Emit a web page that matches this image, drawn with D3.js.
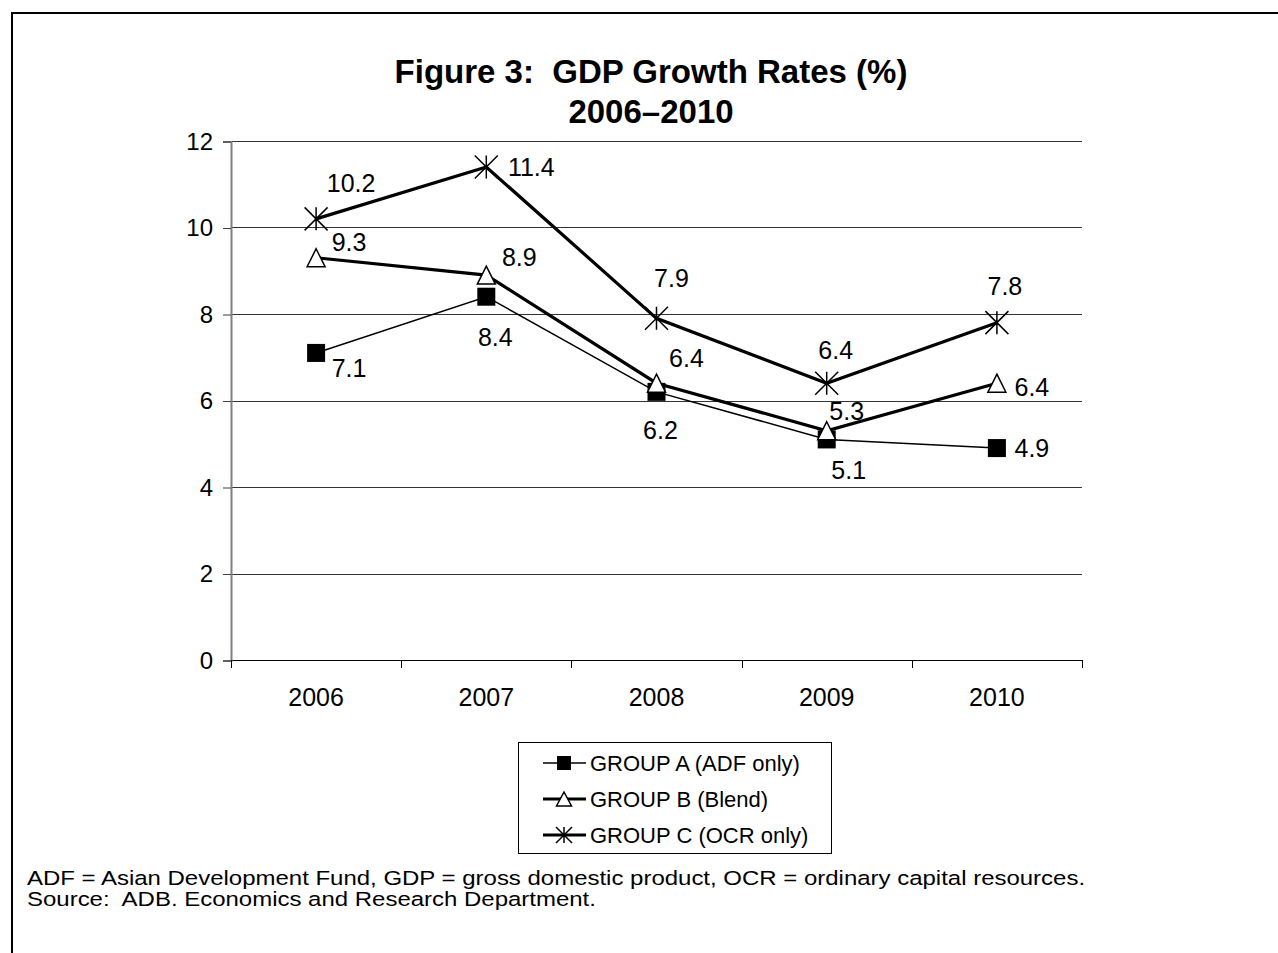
<!DOCTYPE html>
<html>
<head>
<meta charset="utf-8">
<script src="https://cdn.jsdelivr.net/npm/d3@7"></script>
<style>
  html, body { margin: 0; padding: 0; background: #fff; }
  svg { display: block; font-family: "Liberation Sans", Arial, sans-serif; }
  text { white-space: pre; }
</style>
</head>
<body>
<svg id="chart" width="1278" height="953"></svg>
<script>
// ---- data ----
const years = ["2006", "2007", "2008", "2009", "2010"];
const groupA = [7.1, 8.4, 6.2, 5.1, 4.9];
const groupB = [9.3, 8.9, 6.4, 5.3, 6.4];
const groupC = [10.2, 11.4, 7.9, 6.4, 7.8];
const seriesNames = ["GROUP A (ADF only)", "GROUP B (Blend)", "GROUP C (OCR only)"];
const yTicks = [0, 2, 4, 6, 8, 10, 12];
const titleLines = ["Figure 3:  GDP Growth Rates (%)", "2006\u20132010"];
const footnotes = [
  "ADF = Asian Development Fund, GDP = gross domestic product, OCR = ordinary capital resources.",
  "Source:  ADB. Economics and Research Department."
];

// ---- layout ----
const svg = d3.select("#chart");
const plot = { left: 231, right: 1082, top: 141, bottom: 660 };

const x = d3.scaleBand().domain(years).range([plot.left, plot.right]).padding(0);
const y = d3.scaleLinear().domain([0, 12]).range([plot.bottom, plot.top]);
const cx = d => x(d) + x.bandwidth() / 2;

// frame (top + left only)
svg.append("line").attr("x1", 12).attr("y1", 13).attr("x2", 1278).attr("y2", 13)
  .attr("stroke", "#000").attr("stroke-width", 2);
svg.append("line").attr("x1", 12).attr("y1", 12).attr("x2", 12).attr("y2", 953)
  .attr("stroke", "#000").attr("stroke-width", 2);

// title
svg.append("g").selectAll("text").data(titleLines).join("text")
  .attr("x", 651).attr("y", (d, i) => 83 + i * 40)
  .attr("text-anchor", "middle").attr("font-weight", "bold").attr("font-size", 33)
  .attr("fill", "#000").text(d => d);

// gridlines
svg.append("g").selectAll("line").data(yTicks).join("line")
  .attr("x1", plot.left).attr("x2", plot.right)
  .attr("y1", d => Math.round(y(d)) + 0.5).attr("y2", d => Math.round(y(d)) + 0.5)
  .attr("stroke", d => d === 0 ? "#000" : "#333").attr("stroke-width", 1);

// y axis
const yAxis = d3.axisLeft(y).tickValues(yTicks).tickSize(8).tickPadding(10).tickFormat(d3.format("d"));
const gy = svg.append("g").attr("transform", `translate(${plot.left},0.5)`).call(yAxis);
gy.select(".domain").attr("stroke", "#808080").attr("stroke-width", 2);
gy.selectAll(".tick line").attr("stroke", "#404040");
gy.selectAll(".tick text").attr("font-size", 24).attr("fill", "#000")
  .attr("font-family", "'Liberation Sans', Arial, sans-serif");

// x axis ticks at category boundaries
const boundaries = years.map(d => x(d)).concat([plot.right]);
svg.append("g").selectAll("line").data(boundaries).join("line")
  .attr("x1", d => Math.round(d) + 0.5).attr("x2", d => Math.round(d) + 0.5)
  .attr("y1", plot.bottom).attr("y2", plot.bottom + 8)
  .attr("stroke", "#000").attr("stroke-width", 1);
svg.append("g").selectAll("text").data(years).join("text")
  .attr("x", d => cx(d)).attr("y", 706)
  .attr("text-anchor", "middle").attr("font-size", 25).attr("fill", "#000").text(d => d);

// series
const series = [
  { name: seriesNames[0], values: groupA, width: 1.5, marker: "square" },
  { name: seriesNames[1], values: groupB, width: 3.2, marker: "triangle" },
  { name: seriesNames[2], values: groupC, width: 3.2, marker: "star" }
];

// label placement (offset of label centre from its point)
const labelOffsets = [
  [[33, 15], [9, 40], [4, 38], [22, 31], [35, 0]],
  [[33, -16], [33, -18], [30, -25], [20, -20], [35, 4]],
  [[35, -36], [45, 0], [15, -40], [9, -33], [8, -37]]
];

const line = d3.line().x((d, i) => cx(years[i])).y(d => y(d));

function drawMarker(g, type, px, py) {
  if (type === "square") {
    const s = 18;
    g.append("rect").attr("x", px - s / 2).attr("y", py - s / 2).attr("width", s).attr("height", s)
      .attr("fill", "#000");
  } else if (type === "triangle") {
    const w = 18, h = 18;
    g.append("path")
      .attr("d", `M${px},${py - h / 2}L${px + w / 2},${py + h / 2}L${px - w / 2},${py + h / 2}Z`)
      .attr("fill", "#fff").attr("stroke", "#000").attr("stroke-width", 1.5);
  } else {
    const r = 11.5;
    g.append("path")
      .attr("d", `M${px - r},${py - r}L${px + r},${py + r}M${px + r},${py - r}L${px - r},${py + r}M${px},${py - r}L${px},${py + r}`)
      .attr("fill", "none").attr("stroke", "#000").attr("stroke-width", 1.5);
  }
}

series.forEach(s => {
  svg.append("path").datum(s.values).attr("d", line)
    .attr("fill", "none").attr("stroke", "#000").attr("stroke-width", s.width)
    .attr("stroke-linejoin", "miter");
});
series.forEach(s => {
  const g = svg.append("g");
  s.values.forEach((v, i) => drawMarker(g, s.marker, cx(years[i]), y(v)));
});
series.forEach((s, si) => {
  svg.append("g").selectAll("text").data(s.values).join("text")
    .attr("x", (d, i) => cx(years[i]) + labelOffsets[si][i][0])
    .attr("y", (d, i) => y(d) + labelOffsets[si][i][1])
    .attr("dy", "0.36em")
    .attr("text-anchor", "middle").attr("font-size", 25).attr("fill", "#000")
    .text(d => d3.format(".1f")(d));
});

// legend
const leg = { x: 518.5, y: 742.5, w: 313, h: 111 };
svg.append("rect").attr("x", leg.x).attr("y", leg.y).attr("width", leg.w).attr("height", leg.h)
  .attr("fill", "#fff").attr("stroke", "#000").attr("stroke-width", 1);
series.forEach((s, i) => {
  const ry = 763 + i * 36;
  const g = svg.append("g");
  g.append("line").attr("x1", 543).attr("x2", 586).attr("y1", ry).attr("y2", ry)
    .attr("stroke", "#000").attr("stroke-width", s.width);
  if (s.marker === "square") {
    g.append("rect").attr("x", 557).attr("y", ry - 7).attr("width", 14).attr("height", 14).attr("fill", "#000");
  } else if (s.marker === "triangle") {
    g.append("path").attr("d", `M564,${ry - 7}L571.5,${ry + 7}L556.5,${ry + 7}Z`)
      .attr("fill", "#fff").attr("stroke", "#000").attr("stroke-width", 1.5);
  } else {
    const r = 8;
    g.append("path")
      .attr("d", `M${564 - r},${ry - r}L${564 + r},${ry + r}M${564 + r},${ry - r}L${564 - r},${ry + r}M564,${ry - r}L564,${ry + r}`)
      .attr("fill", "none").attr("stroke", "#000").attr("stroke-width", 1.5);
  }
  g.append("text").attr("x", 590).attr("y", ry).attr("dy", "0.36em")
    .attr("font-size", 22).attr("fill", "#000").text(s.name);
});

// footnotes (slightly wide face, as in the source)
svg.append("g").attr("transform", "translate(27,0) scale(1.17,1)")
  .selectAll("text").data(footnotes).join("text")
  .attr("x", 0).attr("y", (d, i) => 885 + i * 21)
  .attr("font-size", 20.5).attr("fill", "#000").text(d => d);
</script>
</body>
</html>
